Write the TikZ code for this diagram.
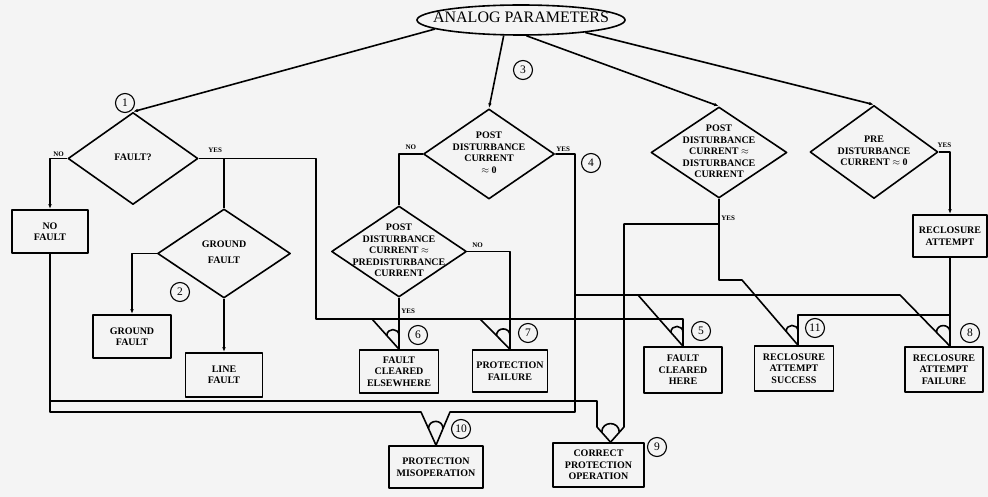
\documentclass[tikz,border=0pt]{standalone}
\usepackage{fontspec}
\setmainfont{Liberation Serif}
\usepackage{tikz}
\usetikzlibrary{arrows.meta,calc,shapes.geometric}
\definecolor{paper}{gray}{0.955}
% text that does not widen its shape
\newcommand{\dtext}[1]{\makebox[0pt]{\raisebox{-.5ex}[0pt][0pt]{\begin{tabular}{@{}c@{}}#1\end{tabular}}}}

\begin{document}
\begin{tikzpicture}[
        x=1pt, y=1pt,
        line width=1.6pt,
        line join=round,
        font=\fontsize{10}{11.5}\selectfont\bfseries,
        event/.style={
            draw,
            rectangle,
            align=center,
            inner sep=1pt
        },
        decision/.style={
            draw,
            diamond,
            inner sep=0pt
        },
        source/.style={
            draw,
            ellipse,
            inner sep=0pt,
            font=\fontsize{16}{17}\selectfont
        },
        tag/.style={
            draw,
            circle,
            line width=1.1pt,
            minimum size=19pt,
            inner sep=0pt,
            font=\fontsize{11.5}{11.5}\selectfont
        },
        answer/.style={
            font=\fontsize{7}{7}\selectfont\bfseries,
            inner sep=1.5pt
        },
        gatearc/.style={
            bend left=90,
            looseness=1.7
        },
        arrow/.style={
            -{Latex[length=5pt,width=3.5pt]}
        }
    ]

        \fill[paper] (0,0) rectangle (988,-497);
        \useasboundingbox (0,0) rectangle (988,-497);

        % Source
        \node[source, minimum width=208, minimum height=30] (params) at (521,-20)
            {\dtext{ANALOG PARAMETERS}};

        % Tests
        \node[decision, minimum width=130, minimum height=92] (fault) at (133,-158.5)
            {\dtext{FAULT?}};
        \node[decision, minimum width=133, minimum height=89] (gfault) at (224,-253.5)
            {\dtext{GROUND\\[4pt]FAULT}};
        \node[decision, minimum width=131, minimum height=90] (pdczero) at (489,-154)
            {\dtext{POST\\DISTURBANCE\\CURRENT\\$\approx$ 0}};
        \node[decision, minimum width=135, minimum height=91] (pdcpre) at (399,-251.5)
            {\dtext{POST\\DISTURBANCE\\CURRENT $\approx$\\PREDISTURBANCE\\CURRENT}};
        \node[decision, minimum width=136, minimum height=91] (pdcdc) at (719,-152.5)
            {\dtext{POST\\DISTURBANCE\\CURRENT $\approx$\\DISTURBANCE\\CURRENT}};
        \node[decision, minimum width=128, minimum height=93] (pre) at (874,-152)
            {\dtext{PRE\\DISTURBANCE\\CURRENT $\approx$ 0}};

        % Outcomes
        \node[event, minimum width=76, minimum height=43] (nofault) at (50,-231.5)
            {NO\\FAULT};
        \node[event, minimum width=78, minimum height=43] (gfbox) at (132,-336.5)
            {GROUND\\FAULT};
        \node[event, minimum width=77, minimum height=44] (linefault) at (224,-375)
            {LINE\\FAULT};
        \node[event, minimum width=74, minimum height=42] (reclose) at (950,-236)
            {RECLOSURE\\ATTEMPT};
        \node[event, minimum width=79, minimum height=43] (clelse) at (399,-371.5)
            {FAULT\\CLEARED\\ELSEWHERE};
        \node[event, minimum width=75, minimum height=42] (protfail) at (510,-371)
            {PROTECTION\\FAILURE};
        \node[event, minimum width=78, minimum height=46] (clhere) at (683,-370)
            {FAULT\\CLEARED\\HERE};
        \node[event, minimum width=79, minimum height=45] (recsucc) at (794,-368.5)
            {RECLOSURE\\ATTEMPT\\SUCCESS};
        \node[event, minimum width=78, minimum height=45] (recfail) at (944,-369.5)
            {RECLOSURE\\ATTEMPT\\FAILURE};
        \node[event, minimum width=94, minimum height=42] (misop) at (436,-467)
            {PROTECTION\\MISOPERATION};
        \node[event, minimum width=91, minimum height=44] (corrprot) at (598.5,-465)
            {CORRECT\\PROTECTION\\OPERATION};

        % Gate tips and the tops of their sides
        \coordinate (tip6) at (clelse.north);
        \coordinate (tip7) at (protfail.north);
        \coordinate (tip5) at (clhere.north);
        \coordinate (tip11) at ($(recsucc.north)+(4,0)$);
        \coordinate (tip8) at (reclose.south |- recfail.north);
        \coordinate (tip10) at (misop.north);
        \coordinate (tip9) at ($(corrprot.north west)!0.63!(corrprot.north east)$);

        \coordinate (busyes) at (316,-319);
        \coordinate (g6l) at (372,-319);
        \coordinate (g6r) at (tip6 |- busyes);
        \coordinate (g7l) at (480,-319);
        \coordinate (g7r) at (tip7 |- busyes);
        \coordinate (g5l) at (638,-295);
        \coordinate (g5r) at (tip5 |- busyes);
        \coordinate (g11l) at (742,-280);
        \coordinate (g11r) at ($(tip11)+(0,30)$);
        \coordinate (g8l) at (900,-295);
        \coordinate (g8r) at ($(tip8)+(0,31)$);
        \coordinate (g10l) at (421,-412);
        \coordinate (g10r) at (450,-412);
        \coordinate (yes4) at (575,-412);
        \coordinate (g9l) at (597,-427);
        \coordinate (g9r) at (624,-427);
        \coordinate (g9bus) at (597,-401);
        \coordinate (g9top) at (624,-224);

        % From the analog parameters
        \draw[arrow] (params.186) -- (fault.north);
        \draw[arrow] (params.222) -- (pdczero.north);
        \draw[arrow] (params.289) -- (pdcdc.north);
        \draw[arrow] (params.349) -- (pre.north);

        % Fault test
        \draw[arrow] (fault.west) -| node[answer,pos=.25,above]{NO} (nofault.north);
        \draw (fault.east) -| node[answer,pos=.07,above=4pt]{YES} (busyes) -- (g5r) -- (tip5);
        \draw (gfault.north |- fault.east) -- (gfault.north);
        \draw[arrow] (gfault.west) -| (gfbox.north);
        \draw[arrow] (gfault.south) -- (linefault.north);
        \draw (g6l) -- (tip6);
        \draw (g7l) -- (tip7);

        % Post disturbance current = 0
        \draw (pdczero.west) -| node[answer,pos=.25,above=2pt]{NO} (pdcpre.north);
        \draw (pdczero.east) -| node[answer,pos=.2,above]{YES} (yes4) -- (g10r) -- (tip10);
        \draw (yes4 |- g5l) -- (g8l) -- (tip8);
        \draw (g5l) -- (tip5);

        % Post = predisturbance current
        \draw (pdcpre.east) -| node[answer,pos=.12,above=2pt]{NO} (tip7);
        \draw (pdcpre.south) -- node[answer,pos=.26,right]{YES} (tip6);

        % Post = disturbance current
        \draw (pdcdc.south) |- node[answer,pos=.12,right]{YES} (g11l) -- (tip11);
        \draw (pdcdc.south |- g9top) -- (g9top) -- (g9r) -- (tip9);

        % Pre disturbance current = 0
        \draw[arrow] (pre.east) -| node[answer,pos=.25,above=2pt]{YES} (reclose.north);
        \draw (reclose.south) -- (tip8);
        \draw (g8r) -| (tip11);

        % No fault
        \draw (nofault.south) |- (g10l) -- (tip10);
        \draw (nofault.south |- g9bus) -- (g9bus) -- (g9l) -- (tip9);

        % AND gates
        \draw ($(tip6)!.45!(g6l)$) to[gatearc] ($(tip6)!.45!(g6r)$);
        \draw ($(tip7)!.45!(g7l)$) to[gatearc] ($(tip7)!.45!(g7r)$);
        \draw ($(tip5)!.27!(g5l)$) to[gatearc] ($(tip5)!.5!(g5r)$);
        \draw ($(tip11)!.21!(g11l)$) to[gatearc] ($(tip11)!.47!(g11r)$);
        \draw ($(tip8)!.27!(g8l)$) to[gatearc] ($(tip8)!.45!(g8r)$);
        \draw ($(tip10)!.5!(g10l)$) to[gatearc] ($(tip10)!.5!(g10r)$);
        \draw ($(tip9)!.65!(g9l)$) to[gatearc] ($(tip9)!.65!(g9r)$);

        % Step numbers
        \node[tag] (tag1) at (125,-103) {1};
        \node[tag] (tag2) at (180,-292) {2};
        \node[tag] (tag3) at (523,-70) {3};
        \node[tag] (tag4) at (591,-163) {4};
        \node[tag] (tag5) at (701,-331) {5};
        \node[tag] (tag6) at (418,-335) {6};
        \node[tag] (tag7) at (528,-333) {7};
        \node[tag] (tag8) at (970,-333) {8};
        \node[tag] (tag9) at (657,-447) {9};
        \node[tag] (tag10) at (461,-429) {10};
        \node[tag] (tag11) at (815,-328) {11};

    \end{tikzpicture}
\end{document}
